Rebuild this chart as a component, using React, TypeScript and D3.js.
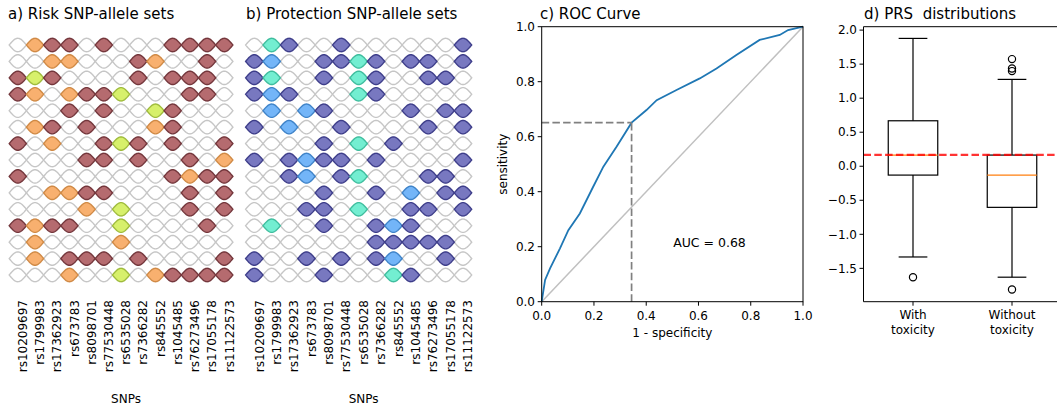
import React from "react";
import * as d3 from "d3";

// SNP identifiers shared by both allele-set panels
const snps = [
  "rs10209697", "rs1799983", "rs17362923", "rs673783", "rs8098701", "rs77530448",
  "rs6535028", "rs7366282", "rs845552", "rs1045485", "rs76273496", "rs17055178", "rs11122573",
];

// Risk allele sets: 0 = absent, 1 = risk allele, 2 = second allele class, 3 = third allele class
const riskSets: number[][] = [
  [0, 2, 1, 1, 0, 1, 0, 0, 0, 1, 1, 1, 1],
  [0, 0, 2, 2, 0, 0, 0, 1, 2, 0, 0, 1, 0],
  [1, 3, 1, 0, 0, 0, 0, 1, 0, 1, 1, 1, 0],
  [1, 2, 0, 2, 1, 1, 3, 0, 0, 0, 1, 1, 0],
  [0, 0, 0, 1, 0, 1, 0, 0, 3, 1, 0, 0, 0],
  [0, 2, 1, 0, 1, 0, 0, 0, 2, 1, 0, 0, 0],
  [1, 0, 2, 0, 0, 1, 3, 1, 0, 1, 0, 0, 1],
  [0, 0, 0, 0, 1, 1, 0, 1, 0, 0, 1, 0, 2],
  [1, 0, 0, 0, 0, 0, 0, 0, 0, 1, 2, 1, 1],
  [0, 0, 2, 2, 1, 1, 0, 0, 0, 0, 1, 0, 1],
  [0, 0, 0, 0, 2, 0, 3, 0, 0, 0, 1, 0, 1],
  [1, 2, 1, 1, 0, 0, 3, 0, 0, 0, 0, 1, 0],
  [0, 2, 0, 0, 0, 0, 2, 0, 0, 0, 0, 0, 0],
  [0, 2, 0, 1, 1, 1, 0, 1, 0, 0, 0, 0, 1],
  [0, 0, 0, 2, 0, 0, 3, 0, 2, 1, 1, 1, 1],
];

// Protection allele sets, same coding
const protectionSets: number[][] = [
  [0, 3, 1, 0, 0, 1, 0, 0, 0, 0, 0, 0, 1],
  [1, 2, 0, 0, 1, 1, 3, 1, 0, 1, 1, 0, 1],
  [1, 3, 0, 0, 1, 0, 3, 1, 0, 0, 1, 1, 0],
  [1, 2, 1, 0, 0, 0, 3, 1, 0, 0, 0, 0, 0],
  [0, 2, 0, 2, 1, 0, 0, 0, 0, 1, 0, 1, 1],
  [1, 0, 2, 0, 0, 1, 0, 0, 0, 0, 1, 0, 1],
  [0, 0, 0, 0, 1, 0, 3, 0, 1, 0, 0, 0, 0],
  [1, 0, 1, 2, 1, 1, 0, 1, 0, 0, 0, 0, 1],
  [0, 0, 1, 2, 0, 1, 3, 0, 0, 0, 1, 1, 0],
  [0, 0, 0, 0, 1, 0, 0, 1, 0, 2, 0, 1, 1],
  [0, 0, 0, 1, 1, 0, 3, 0, 0, 1, 1, 0, 1],
  [0, 3, 0, 0, 1, 0, 0, 1, 2, 1, 0, 0, 0],
  [0, 0, 0, 0, 0, 0, 0, 1, 1, 1, 1, 1, 0],
  [1, 0, 0, 1, 0, 1, 0, 1, 2, 0, 0, 1, 0],
  [1, 0, 0, 0, 1, 0, 0, 0, 3, 1, 0, 0, 0],
];

// ROC curve
const rocFpr = [0, 0.013, 0.032, 0.07, 0.102, 0.146, 0.197, 0.236, 0.287, 0.344, 0.401, 0.44, 0.516, 0.605, 0.669, 0.745, 0.834, 0.911, 0.943, 1];
const rocTpr = [0, 0.079, 0.121, 0.194, 0.26, 0.321, 0.418, 0.491, 0.564, 0.651, 0.697, 0.733, 0.77, 0.812, 0.848, 0.897, 0.952, 0.97, 0.988, 1];
const cutoffFpr = 0.344;
const cutoffTpr = 0.651;
const auc = 0.68;
const rocTicks = [0, 0.2, 0.4, 0.6, 0.8, 1.0];

// PRS box plots
const groupLabels = [["With", "toxicity"], ["Without", "toxicity"]];
const whiskerLow = [-1.333, -1.63];
const boxQ1 = [-0.13, -0.604];
const boxMedian = [0.164, -0.13];
const boxQ3 = [0.668, 0.164];
const whiskerHigh = [1.878, 1.276];
const outliers = [[-1.63], [1.574, 1.437, 1.398, -1.81]];
const prsThreshold = 0.166;
const prsTicks = [2.0, 1.5, 1.0, 0.5, 0.0, -0.5, -1.0, -1.5];

const FONT = "DejaVu Sans";

const riskColors: Record<number, [string, string]> = {
  0: ["#ffffff", "#c6c6c6"],
  1: ["#b56b6f", "#74373c"],
  2: ["#f8b06f", "#d08a46"],
  3: ["#d7f06b", "#9fbb3d"],
};
const protectionColors: Record<number, [string, string]> = {
  0: ["#ffffff", "#c6c6c6"],
  1: ["#7878c0", "#3e3e8a"],
  2: ["#73b5f8", "#3f83c8"],
  3: ["#73eed1", "#3fbd9e"],
};

// lens-shaped cell outline built from two half sine waves
function lensPath(w: number, h: number): string {
  const n = 24;
  const pts: [number, number][] = [];
  for (let i = 0; i <= n; i++) {
    const t = i / n;
    pts.push([-w / 2 + t * w, -(h / 2) * Math.sin(Math.PI * t)]);
  }
  for (let i = n; i >= 0; i--) {
    const t = i / n;
    pts.push([-w / 2 + t * w, (h / 2) * Math.sin(Math.PI * t)]);
  }
  return (d3.line()(pts) as string) + "Z";
}

function AlleleGrid({
  data, colors, x0, x1, title, titleX,
}: {
  data: number[][]; colors: Record<number, [string, string]>; x0: number; x1: number; title: string; titleX: number;
}) {
  const x = d3.scaleLinear().domain([0, snps.length - 1]).range([x0, x1]);
  const y = d3.scaleLinear().domain([0, data.length - 1]).range([45, 275]);
  const step = (x1 - x0) / (snps.length - 1);
  const shape = lensPath(step, 13.4);
  const cells: { r: number; c: number; v: number }[] = [];
  data.forEach((row, r) => row.forEach((v, c) => cells.push({ r, c, v })));
  const ordered = [...cells.filter((d) => d.v === 0), ...cells.filter((d) => d.v !== 0)];
  return (
    <g>
      <text x={titleX} y={19} fontSize={15} fontFamily={FONT} fill="#000">{title}</text>
      {ordered.map((d, i) => (
        <path
          key={i}
          d={shape}
          transform={`translate(${x(d.c)},${y(d.r)})`}
          fill={colors[d.v][0]}
          stroke={colors[d.v][1]}
          strokeWidth={1.4}
        />
      ))}
      {snps.map((s, i) => (
        <text
          key={s}
          transform={`translate(${x(i) + 5},300) rotate(-90)`}
          textAnchor="end"
          dy="0.35em"
          fontSize={12}
          fontFamily={FONT}
          fill="#000"
        >
          {s}
        </text>
      ))}
      <text x={(x0 + x1) / 2 + 5} y={403} textAnchor="middle" fontSize={12} fontFamily={FONT} fill="#000">SNPs</text>
    </g>
  );
}

function RocPanel() {
  const x = d3.scaleLinear().domain([0, 1]).range([541.7, 803]);
  const y = d3.scaleLinear().domain([0, 1]).range([301.7, 26.7]);
  const line = d3.line<number>().x((_, i) => x(rocFpr[i])).y((d) => y(d));
  return (
    <g>
      <text x={540} y={19} fontSize={15} fontFamily={FONT} fill="#000">c) ROC Curve</text>
      <line x1={x(0)} y1={y(0)} x2={x(1)} y2={y(1)} stroke="#c0c0c0" strokeWidth={1.5} />
      <path d={line(rocTpr) as string} fill="none" stroke="#1f77b4" strokeWidth={1.8} />
      <line x1={x(0)} y1={y(cutoffTpr)} x2={x(cutoffFpr)} y2={y(cutoffTpr)} stroke="#808080" strokeWidth={1.7} strokeDasharray="7.5,3.2" />
      <line x1={x(cutoffFpr)} y1={y(0)} x2={x(cutoffFpr)} y2={y(cutoffTpr)} stroke="#808080" strokeWidth={1.7} strokeDasharray="7.5,3.2" />
      <text x={x(0.503)} y={y(0.216)} dy="0.35em" textAnchor="start" fontSize={12.5} fontFamily={FONT} fill="#000">
        {`AUC = ${auc.toFixed(2)}`}
      </text>
      <rect x={x(0)} y={y(1)} width={x(1) - x(0)} height={y(0) - y(1)} fill="none" stroke="#000" strokeWidth={1} />
      {rocTicks.map((t) => (
        <g key={`x${t}`}>
          <line x1={x(t)} x2={x(t)} y1={y(0)} y2={y(0) + 4} stroke="#000" strokeWidth={1} />
          <text x={x(t)} y={320} textAnchor="middle" fontSize={12} fontFamily={FONT} fill="#000">{t.toFixed(1)}</text>
        </g>
      ))}
      {rocTicks.map((t) => (
        <g key={`y${t}`}>
          <line x1={x(0) - 4} x2={x(0)} y1={y(t)} y2={y(t)} stroke="#000" strokeWidth={1} />
          <text x={535} y={y(t)} dy="0.35em" textAnchor="end" fontSize={12} fontFamily={FONT} fill="#000">{t.toFixed(1)}</text>
        </g>
      ))}
      <text x={(x(0) + x(1)) / 2} y={337} textAnchor="middle" fontSize={12} fontFamily={FONT} fill="#000">1 - specificity</text>
      <text transform={`translate(507,${(y(0) + y(1)) / 2}) rotate(-90)`} textAnchor="middle" fontSize={12} fontFamily={FONT} fill="#000">sensitivity</text>
    </g>
  );
}

function PrsPanel() {
  const x = d3.scaleLinear().domain([0.5, 2.5]).range([863.5, 1061.5]);
  const y = d3.scaleLinear().domain([-1.99, 2.05]).range([301.7, 26.7]);
  const unit = x(2) - x(1);
  const boxW = unit * 0.5;
  const capW = unit * 0.29;
  const fmt = (t: number) => (t < 0 ? "\u2212" + Math.abs(t).toFixed(1) : t.toFixed(1));
  return (
    <g>
      <text x={864} y={19} fontSize={15} fontFamily={FONT} fill="#000" style={{ whiteSpace: "pre" }}>{"d) PRS  distributions"}</text>
      {groupLabels.map((_, i) => {
        const cx = x(i + 1);
        return (
          <g key={i} stroke="#000" strokeWidth={1.2} fill="none">
            <line x1={cx} x2={cx} y1={y(boxQ3[i])} y2={y(whiskerHigh[i])} />
            <line x1={cx} x2={cx} y1={y(boxQ1[i])} y2={y(whiskerLow[i])} />
            <line x1={cx - capW / 2} x2={cx + capW / 2} y1={y(whiskerHigh[i])} y2={y(whiskerHigh[i])} />
            <line x1={cx - capW / 2} x2={cx + capW / 2} y1={y(whiskerLow[i])} y2={y(whiskerLow[i])} />
            <rect x={cx - boxW / 2} y={y(boxQ3[i])} width={boxW} height={y(boxQ1[i]) - y(boxQ3[i])} />
            <line x1={cx - boxW / 2} x2={cx + boxW / 2} y1={y(boxMedian[i])} y2={y(boxMedian[i])} stroke="#ff7f0e" />
            {outliers[i].map((o, j) => (
              <circle key={j} cx={cx} cy={y(o)} r={3.6} />
            ))}
          </g>
        );
      })}
      <line x1={x(0.5)} x2={x(2.5)} y1={y(prsThreshold)} y2={y(prsThreshold)} stroke="#ff0000" strokeOpacity={0.8} strokeWidth={2.3} strokeDasharray="7.5,3.3" />
      <line x1={x(0.5)} x2={x(2.5)} y1={y(2.05)} y2={y(2.05)} stroke="#000" strokeWidth={1} />
      <line x1={x(0.5)} x2={x(2.5)} y1={y(-1.99)} y2={y(-1.99)} stroke="#000" strokeWidth={1} />
      <line x1={x(0.5)} x2={x(0.5)} y1={y(2.05)} y2={y(-1.99)} stroke="#000" strokeWidth={1} />
      {prsTicks.map((t) => (
        <g key={t}>
          <line x1={x(0.5) - 4} x2={x(0.5)} y1={y(t)} y2={y(t)} stroke="#000" strokeWidth={1} />
          <text x={857} y={y(t)} dy="0.35em" textAnchor="end" fontSize={12} fontFamily={FONT} fill="#000">{fmt(t)}</text>
        </g>
      ))}
      {groupLabels.map((lab, i) => (
        <g key={i}>
          <line x1={x(i + 1)} x2={x(i + 1)} y1={y(-1.99)} y2={y(-1.99) + 4} stroke="#000" strokeWidth={1} />
          {lab.map((l, j) => (
            <text key={j} x={x(i + 1)} y={319 + j * 14.5} textAnchor="middle" fontSize={12} fontFamily={FONT} fill="#000">{l}</text>
          ))}
        </g>
      ))}
    </g>
  );
}

export default function App() {
  return (
    <svg width={1057} height={412} style={{ position: "absolute", left: 0, top: 0, background: "#fff" }}>
      <rect width={1057} height={412} fill="#fff" />
      <AlleleGrid data={riskSets} colors={riskColors} x0={17.8} x1={224.3} title="a) Risk SNP-allele sets" titleX={8} />
      <AlleleGrid data={protectionSets} colors={protectionColors} x0={254.3} x1={463} title="b) Protection SNP-allele sets" titleX={246} />
      <RocPanel />
      <PrsPanel />
    </svg>
  );
}
